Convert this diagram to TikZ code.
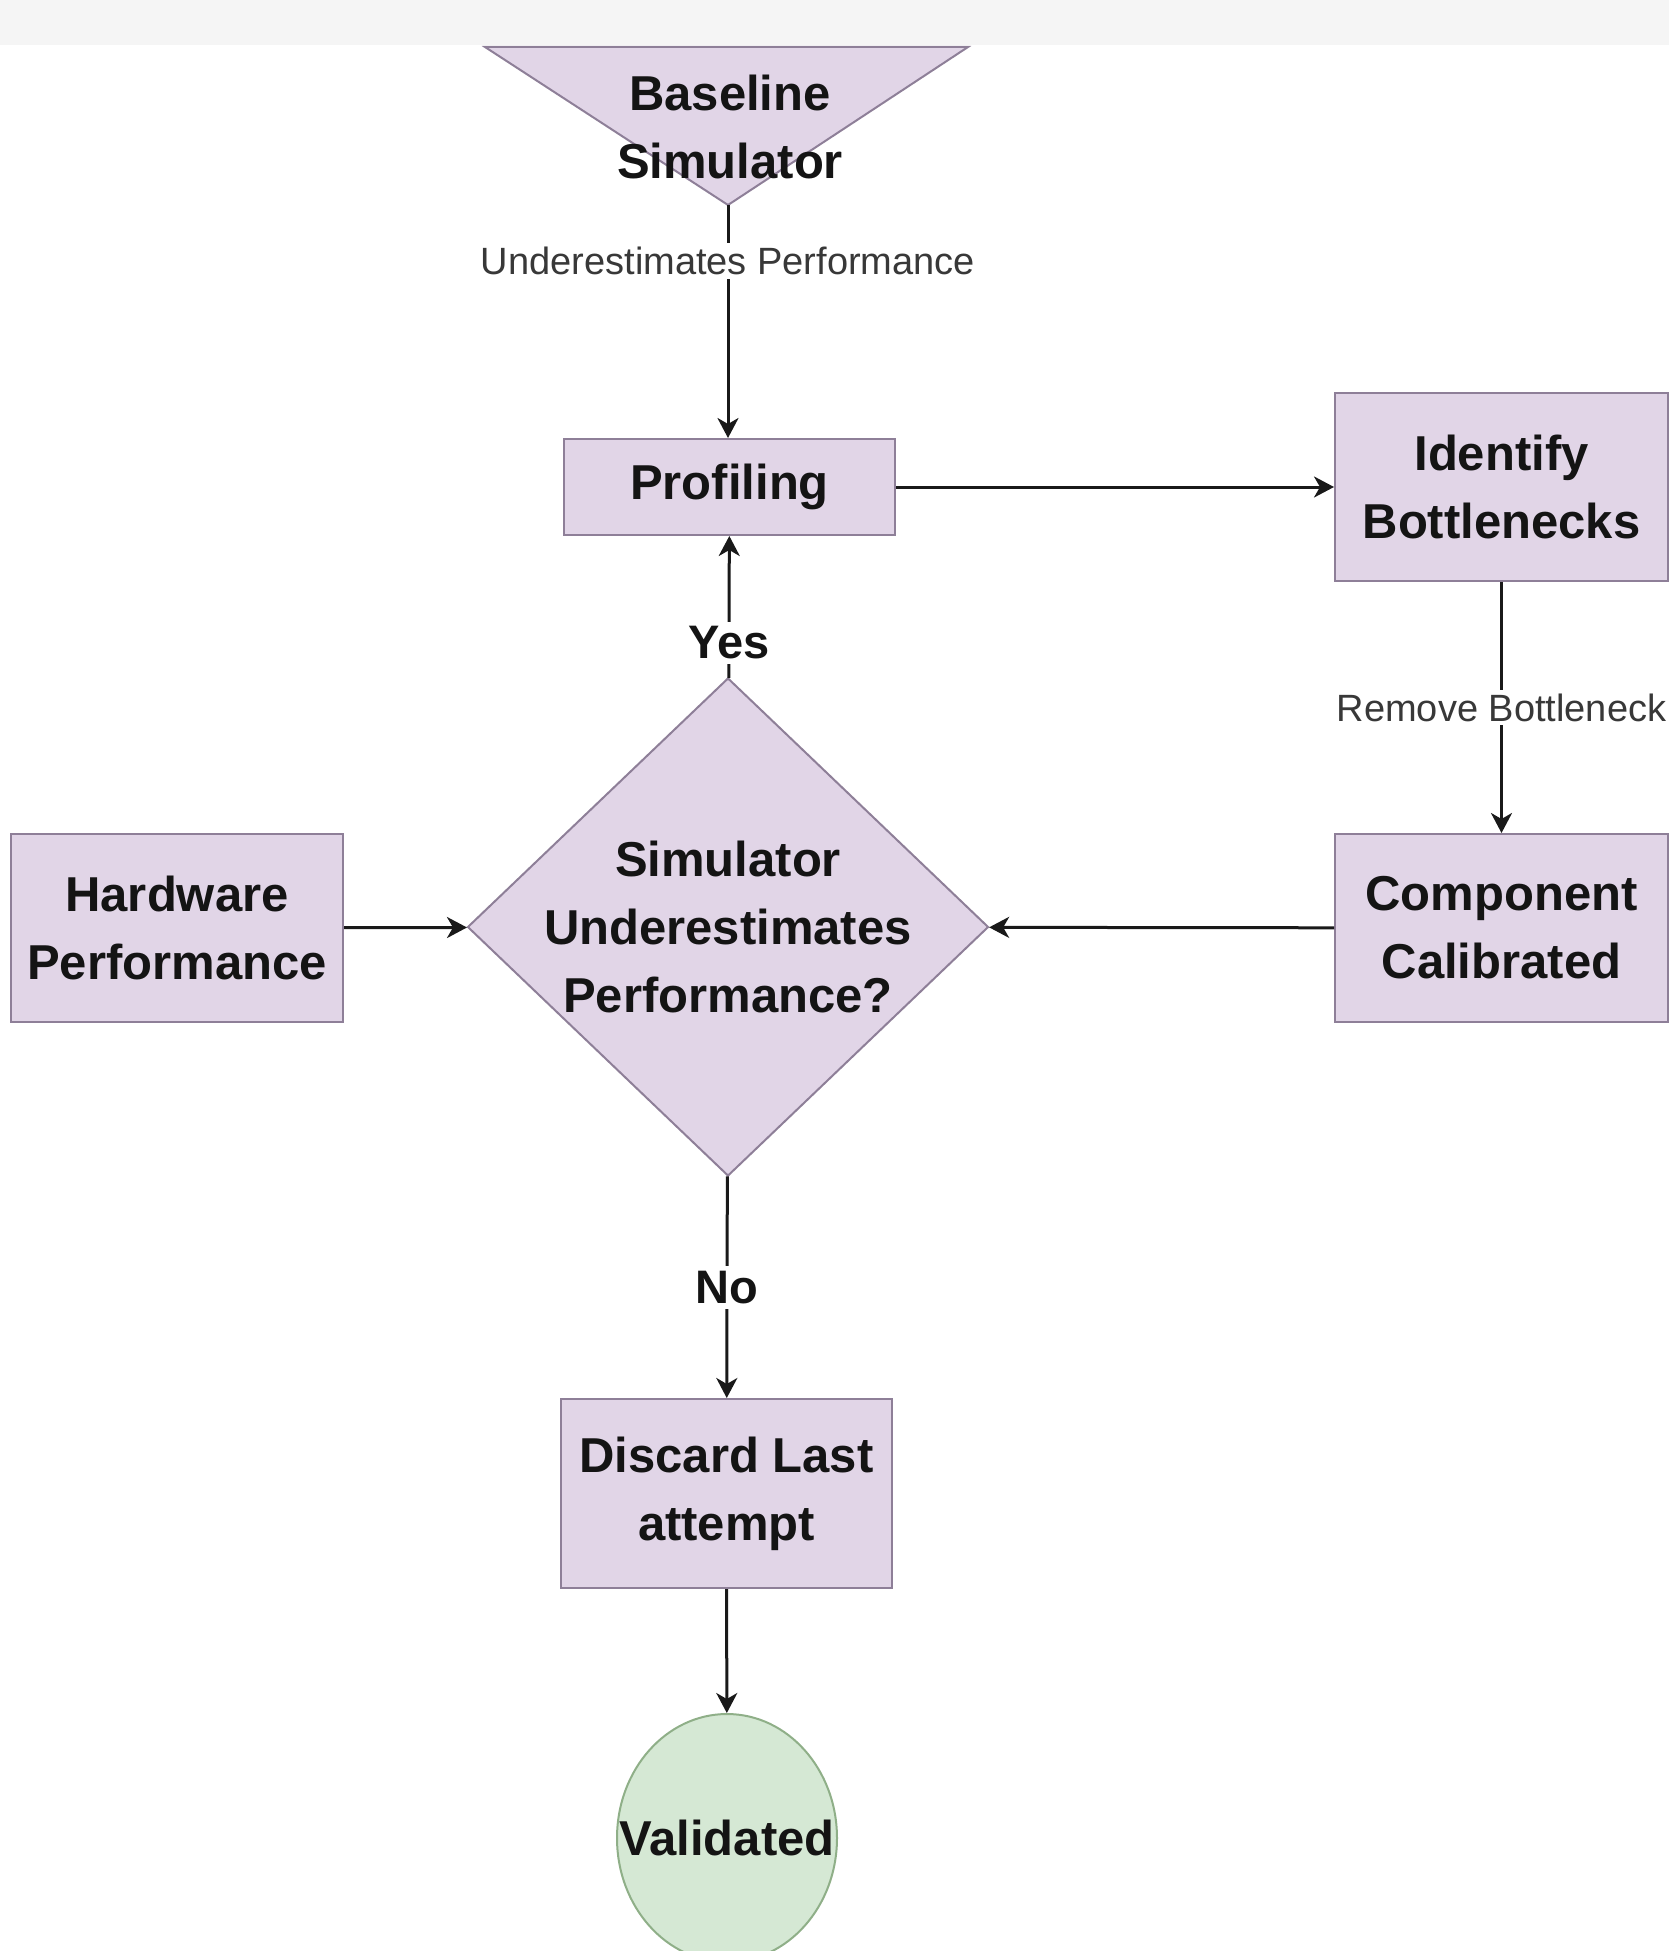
\documentclass[tikz,border=0pt]{standalone}
\usepackage{fontspec}
\setmainfont{Liberation Sans}
\usetikzlibrary{shapes.geometric,arrows.meta}
\definecolor{lilac}{HTML}{E1D5E7}
\definecolor{lilacdraw}{HTML}{8E7F98}
\definecolor{mint}{HTML}{D5E8D4}
\definecolor{mintdraw}{HTML}{8FAF88}
\definecolor{band}{HTML}{F5F5F5}
\begin{document}
\begin{tikzpicture}[x=1pt,y=-1pt,
 txt/.style={align=center,inner sep=0pt,text=black!92,font=\fontsize{49}{68}\selectfont\bfseries},
 box/.style={txt,draw=lilacdraw,fill=lilac,line width=2pt},
 done/.style={draw=mintdraw,fill=mint,line width=2pt,inner sep=0pt},
 lbl/.style={fill=white,inner sep=4pt,text=black!78,font=\fontsize{38}{44}\selectfont},
 yn/.style={fill=white,inner sep=5pt,text=black!92,font=\fontsize{47}{56}\selectfont\bfseries},
 arr/.style={draw=black!90,line width=3pt,-{Stealth[length=20pt,width=21pt,inset=6pt]}}]
 \useasboundingbox (0,0) rectangle (1669,1951);
 \clip (0,0) rectangle (1669,1951);
 \fill[band] (0,0) rectangle (1669,45);
 \path[draw=lilacdraw,fill=lilac,line width=2pt] (485,47) -- (968,47) -- (728,205) coordinate (tip) -- cycle;
 \node[txt] (sim) at (730,127) {Baseline\\Simulator};
 \node[box,minimum width=331pt,minimum height=96pt] (prof) at (729.5,487) {Profiling};
 \node[box,minimum width=333pt,minimum height=188pt] (iden) at (1501.5,487) {Identify\\Bottlenecks};
 \node[box,minimum width=333pt,minimum height=188pt] (comp) at (1501.5,928) {Component\\Calibrated};
 \node[box,minimum width=332pt,minimum height=188pt] (hw) at (177,928) {Hardware\\Performance};
 \node[box,diamond,minimum width=521pt,minimum height=498pt,
  label={[txt]center:Simulator\\Underestimates\\Performance?}] (dec) at (728,927) {};
 \node[box,minimum width=331pt,minimum height=189pt] (disc) at (726.5,1493.5) {Discard Last\\attempt};
 \node[done,ellipse,minimum width=220pt,minimum height=248pt,
  label={[txt]center:Validated}] (val) at (727,1838) {};
 \draw[arr] (tip) -- node[lbl,pos=0.24] {Underestimates Performance} (tip |- prof.north);
 \draw[arr] (prof) -- (iden);
 \draw[arr] (iden) -- node[lbl] {Remove Bottleneck} (comp);
 \draw[arr] (comp) -- (dec);
 \draw[arr] (hw) -- (dec);
 \draw[arr] (dec) -- node[yn,pos=0.245] {Yes} (prof);
 \draw[arr] (dec) -- node[yn] {No} (disc);
 \draw[arr] (disc) -- (val);
\end{tikzpicture}
\end{document}
